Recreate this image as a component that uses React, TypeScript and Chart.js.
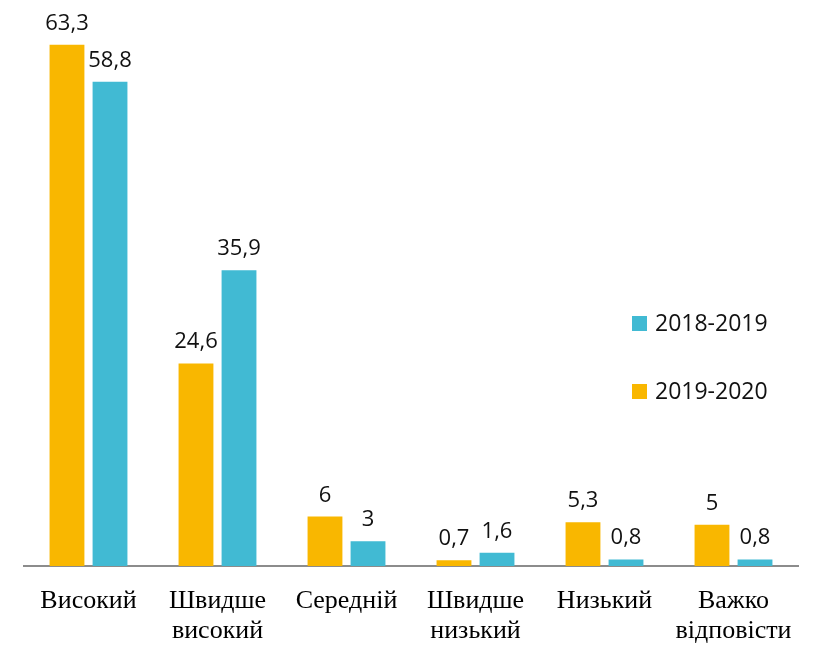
import React, { useEffect, useRef } from "react";
import { Chart, registerables } from "chart.js";

Chart.register(...registerables);

const categories: string[][] = [
  ["Високий"],
  ["Швидше", "високий"],
  ["Середній"],
  ["Швидше", "низький"],
  ["Низький"],
  ["Важко", "відповісти"],
];
const series2019_2020: number[] = [63.3, 24.6, 6, 0.7, 5.3, 5];
const series2018_2019: number[] = [58.8, 35.9, 3, 1.6, 0.8, 0.8];
const seriesNames: string[] = ["2019-2020", "2018-2019"];
const colors: string[] = ["#F9B700", "#41BAD3"];

const labelFont = "22px 'Open Sans', 'DejaVu Sans', sans-serif";
const legendFont = "23px 'Open Sans', 'DejaVu Sans', sans-serif";

const dataLabelPlugin = {
  id: "dataLabels",
  afterDatasetsDraw(chart: any) {
    const ctx = chart.ctx;
    ctx.save();
    ctx.font = labelFont;
    ctx.fillStyle = "#111";
    ctx.textAlign = "center";
    ctx.textBaseline = "alphabetic";
    chart.data.datasets.forEach((ds: any, di: number) => {
      const meta = chart.getDatasetMeta(di);
      meta.data.forEach((el: any, i: number) => {
        const v = ds.data[i];
        const txt = String(v).replace(".", ",");
        ctx.fillText(txt, el.x, el.y - 15);
      });
    });
    ctx.restore();
  },
};

const legendPlugin = {
  id: "customLegend",
  afterDraw(chart: any) {
    const ctx = chart.ctx;
    ctx.save();
    ctx.font = legendFont;
    ctx.textAlign = "left";
    ctx.textBaseline = "middle";
    const items = [
      { name: seriesNames[1], color: colors[1], y: 323 },
      { name: seriesNames[0], color: colors[0], y: 391 },
    ];
    items.forEach((it) => {
      ctx.fillStyle = it.color;
      ctx.fillRect(632, it.y - 7, 15, 15);
      ctx.fillStyle = "#111";
      ctx.fillText(it.name, 655, it.y + 1);
    });
    ctx.restore();
  },
};

export default function App() {
  const ref = useRef<HTMLCanvasElement | null>(null);
  useEffect(() => {
    if (!ref.current) return;
    const chart = new Chart(ref.current, {
      type: "bar",
      data: {
        labels: categories,
        datasets: [
          {
            label: seriesNames[0],
            data: series2019_2020,
            backgroundColor: colors[0],
            categoryPercentage: 0.667,
            barPercentage: 0.81,
          },
          {
            label: seriesNames[1],
            data: series2018_2019,
            backgroundColor: colors[1],
            categoryPercentage: 0.667,
            barPercentage: 0.81,
          },
        ],
      },
      options: {
        animation: false,
        responsive: true,
        maintainAspectRatio: false,
        layout: { padding: { left: 24, right: 22, top: 6, bottom: 0 } },
        plugins: {
          legend: { display: false },
          tooltip: { enabled: false },
        },
        scales: {
          x: {
            grid: { display: false, drawTicks: false },
            border: { display: true, color: "#8c8c8c", width: 2 },
            ticks: {
              color: "#000",
              padding: 20,
              maxRotation: 0,
              autoSkip: false,
              font: { family: "'Liberation Serif', 'Times New Roman', serif", size: 26, lineHeight: 1.154 },
            },
            afterFit: (scale: any) => {
              scale.height = 80;
            },
          },
          y: {
            display: false,
            min: 0,
            max: 68,
          },
        },
      },
      plugins: [dataLabelPlugin, legendPlugin],
    });
    return () => chart.destroy();
  }, []);
  return (
    <div style={{ position: "absolute", left: 0, top: 0, width: 820, height: 646, background: "#fff" }}>
      <canvas ref={ref} />
    </div>
  );
}
